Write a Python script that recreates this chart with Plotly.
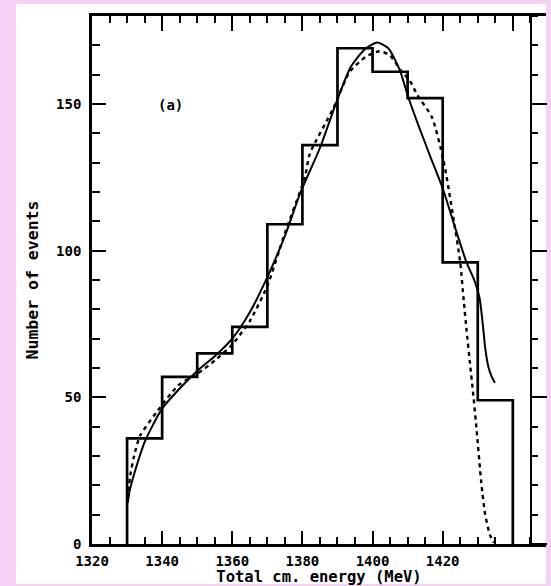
import plotly.graph_objects as go

# ---- data ----
bin_edges = [1330, 1340, 1350, 1360, 1370, 1380, 1390, 1400, 1410, 1420, 1430, 1440]
counts = [36, 57, 65, 74, 109, 136, 169, 161, 152, 96, 49]

solid_x = [1330.2, 1330.7, 1332.3, 1335.1, 1339.9, 1345.0, 1350.0, 1355.0, 1360.0, 1365.0,
           1370.0, 1375.0, 1379.5, 1385.0, 1389.8, 1393.8, 1397.8, 1401.3, 1404.5, 1407.8,
           1410.0, 1413.0, 1416.5, 1420.2, 1423.5, 1426.8, 1429.0, 1430.5, 1431.6, 1432.1,
           1433.0, 1434.0, 1434.9]
solid_y = [14, 18, 25, 35, 46, 53, 59, 64, 70, 79,
           91, 105, 120, 135, 151, 162.7, 168.7, 171, 169, 161.5,
           153, 143, 132, 120.6, 108, 96, 90, 84, 73, 67,
           60.5, 57, 55]

dashed_x = [1330.5, 1330.8, 1332.0, 1333.7, 1338.4, 1344.5, 1350.0, 1355.0, 1360.0, 1365.0,
            1370.0, 1375.0, 1380.7, 1382.1, 1388.8, 1393.5, 1398.0, 1402.0, 1405.0, 1408.3,
            1410.6, 1412.8, 1416.9, 1420.2, 1423.0, 1425.0, 1426.0, 1426.8, 1427.8, 1428.8,
            1429.7, 1431.0, 1432.1, 1433.5, 1434.6]
dashed_y = [18, 22.6, 30, 36.9, 44.9, 54, 58, 62.5, 68, 76,
            88, 106, 125, 133, 148.5, 161, 166, 168, 166.5, 161,
            158, 153, 145.6, 131, 111.5, 96, 83, 73, 61.4, 50,
            38.6, 21, 10.2, 3, 0.5]

x_major = [1320, 1340, 1360, 1380, 1400, 1420, 1440]
x_labels = ["1320", "1340", "1360", "1380", "1400", "1420", ""]
y_major = [0, 50, 100, 150]
y_labels = ["0", "50", "100", "150"]

X_RANGE = [1320, 1449.46]
Y_RANGE = [0, 180.0]

# histogram outline (step)
hx = [bin_edges[0]] + bin_edges[:-1] + [bin_edges[-1], bin_edges[-1]]
hy = [0] + counts + [counts[-1], 0]

fig = go.Figure()
fig.add_trace(go.Scatter(x=hx, y=hy, mode="lines", line=dict(color="black", width=2.7, shape="hv"),
                         hoverinfo="skip", showlegend=False))
fig.add_trace(go.Scatter(x=solid_x, y=solid_y, mode="lines",
                         line=dict(color="black", width=2, shape="spline", smoothing=0.6),
                         showlegend=False))
fig.add_trace(go.Scatter(x=dashed_x, y=dashed_y, mode="lines", xaxis="x2", yaxis="y2",
                         line=dict(color="black", width=2.4, dash="4px,4px", shape="spline", smoothing=0.6),
                         showlegend=False))

tickfont = dict(family="DejaVu Sans Mono", size=14, color="black", weight="bold")
xtitlefont = dict(family="DejaVu Sans Mono", size=15.5, color="black", weight="bold")
ytitlefont = dict(family="DejaVu Sans Mono", size=16.5, color="black", weight="bold")

fig.update_layout(
    width=551, height=586, autosize=False,
    margin=dict(l=92, r=5, t=16, b=42),
    paper_bgcolor="#f5d2f5",
    plot_bgcolor="white",
    xaxis=dict(range=X_RANGE, tickmode="array", tickvals=x_major, ticktext=x_labels,
               ticks="inside", ticklen=13, tickwidth=2, tickcolor="black",
               minor=dict(tickmode="linear", tick0=1320, dtick=5, ticks="inside", ticklen=7,
                          tickwidth=2, tickcolor="black"),
               showline=True, linecolor="black", linewidth=2.6, showgrid=False, zeroline=False,
               tickfont=tickfont, ticklabelstandoff=2,
               title=dict(text="Total cm. energy (MeV)", font=xtitlefont, standoff=0)),
    xaxis2=dict(range=X_RANGE, overlaying="x", side="top", anchor="y",
                tickmode="array", tickvals=x_major, showticklabels=False,
                ticks="inside", ticklen=15, tickwidth=2, tickcolor="black",
                minor=dict(tickmode="linear", tick0=1320, dtick=5, ticks="inside", ticklen=7,
                           tickwidth=2, tickcolor="black"),
                showline=True, linecolor="black", linewidth=2.6, showgrid=False, zeroline=False),
    yaxis=dict(range=Y_RANGE, tickmode="array", tickvals=y_major, ticktext=y_labels,
               ticks="inside", ticklen=14, tickwidth=2, tickcolor="black",
               minor=dict(tickmode="linear", tick0=0, dtick=10, ticks="inside", ticklen=8,
                          tickwidth=2, tickcolor="black"),
               showline=True, linecolor="black", linewidth=2.6, showgrid=False, zeroline=False,
               tickfont=tickfont, ticklabelstandoff=5,
               title=dict(text="Number of events", font=ytitlefont, standoff=14)),
    yaxis2=dict(range=Y_RANGE, overlaying="y", anchor="free", position=0.967, side="right",
                tickmode="array", tickvals=y_major, showticklabels=False,
                ticks="outside", ticklen=15, tickwidth=2, tickcolor="black",
                minor=dict(tickmode="linear", tick0=0, dtick=10, ticks="outside", ticklen=6,
                           tickwidth=2, tickcolor="black"),
                showline=True, linecolor="black", linewidth=2.4, showgrid=False, zeroline=False),
    shapes=[dict(type="rect", xref="paper", yref="paper", x0=-0.1674, x1=1.0, y0=-0.0758, y1=1.0227,
                 fillcolor="white", line=dict(width=0), layer="below")],
    annotations=[dict(text="(a)", xref="x", yref="y", x=1342.5, y=149.7, showarrow=False,
                      font=dict(family="DejaVu Sans Mono", size=14, color="black", weight="bold"))],
)

fig.write_html("out.html", config={"displayModeBar": False},
               post_script="document.body.style.margin='0px';")
